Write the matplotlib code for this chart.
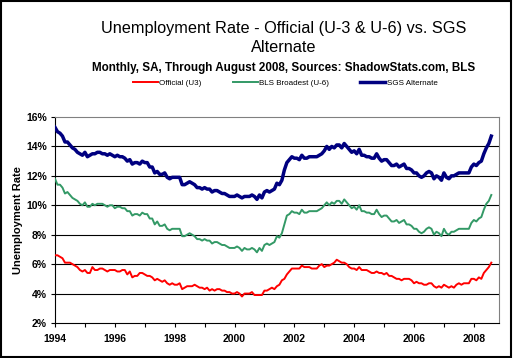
import matplotlib.pyplot as plt
import numpy as np
from matplotlib.patches import Rectangle

# monthly values, Jan 1994 .. Aug 2008
start_year = 1994

u3 = [6.6, 6.6, 6.5, 6.4, 6.1, 6.1, 6.1, 6.0, 5.9, 5.8, 5.6, 5.5,
      5.6, 5.4, 5.4, 5.8, 5.6, 5.6, 5.7, 5.7, 5.6, 5.5, 5.6, 5.6,
      5.6, 5.5, 5.5, 5.6, 5.6, 5.3, 5.5, 5.1, 5.2, 5.2, 5.4, 5.4,
      5.3, 5.2, 5.2, 5.1, 4.9, 5.0, 4.9, 4.8, 4.9, 4.7, 4.6, 4.7,
      4.6, 4.6, 4.7, 4.3, 4.4, 4.5, 4.5, 4.5, 4.6, 4.5, 4.4, 4.4,
      4.3, 4.4, 4.2, 4.3, 4.2, 4.3, 4.3, 4.2, 4.2, 4.1, 4.1, 4.0,
      4.0, 4.1, 4.0, 3.8, 4.0, 4.0, 4.0, 4.1, 3.9, 3.9, 3.9, 3.9,
      4.2, 4.2, 4.3, 4.4, 4.3, 4.5, 4.6, 4.9, 5.0, 5.3, 5.5, 5.7,
      5.7, 5.7, 5.7, 5.9, 5.8, 5.8, 5.8, 5.7, 5.7, 5.7, 5.9, 6.0,
      5.8, 5.9, 5.9, 6.0, 6.1, 6.3, 6.2, 6.1, 6.1, 6.0, 5.8, 5.7,
      5.7, 5.6, 5.8, 5.6, 5.6, 5.6, 5.5, 5.4, 5.4, 5.5, 5.4, 5.4,
      5.3, 5.4, 5.2, 5.2, 5.1, 5.0, 5.0, 4.9, 5.0, 5.0, 5.0, 4.9,
      4.7, 4.8, 4.7, 4.7, 4.6, 4.6, 4.7, 4.7, 4.5, 4.4, 4.5, 4.4,
      4.6, 4.5, 4.4, 4.5, 4.4, 4.6, 4.7, 4.6, 4.7, 4.7, 4.7, 5.0,
      5.0, 4.9, 5.1, 5.0, 5.4, 5.6, 5.8, 6.1]

u6 = [11.8, 11.4, 11.4, 11.2, 10.8, 10.9, 10.7, 10.5, 10.4, 10.3, 10.1, 10.0,
      10.2, 9.9, 9.9, 10.1, 10.0, 10.1, 10.1, 10.1, 10.0, 9.9, 10.0, 10.0,
      9.8, 9.9, 9.9, 9.8, 9.8, 9.6, 9.6, 9.3, 9.4, 9.4, 9.3, 9.5,
      9.4, 9.4, 9.1, 9.1, 8.7, 8.9, 8.6, 8.6, 8.7, 8.4, 8.3, 8.4,
      8.4, 8.4, 8.4, 7.9, 7.9, 8.0, 8.1, 8.0, 7.9, 7.7, 7.7, 7.6,
      7.7, 7.6, 7.6, 7.4, 7.5, 7.5, 7.4, 7.3, 7.3, 7.2, 7.1, 7.1,
      7.1, 7.2, 7.1, 6.9, 7.1, 7.0, 7.0, 7.1, 7.0, 6.8, 7.1, 6.9,
      7.3, 7.4, 7.3, 7.4, 7.5, 7.9, 7.8, 8.1, 8.7, 9.3, 9.4, 9.6,
      9.5, 9.5, 9.4, 9.7, 9.5, 9.5, 9.6, 9.6, 9.6, 9.6, 9.7, 9.8,
      10.0, 10.2, 10.0, 10.2, 10.1, 10.3, 10.3, 10.1, 10.4, 10.2, 10.0, 9.8,
      9.9, 9.7, 10.0, 9.6, 9.6, 9.5, 9.5, 9.4, 9.4, 9.7, 9.4, 9.2,
      9.3, 9.3, 9.1, 8.9, 8.9, 9.0, 8.8, 8.9, 9.0, 8.7, 8.7, 8.6,
      8.4, 8.4, 8.2, 8.1, 8.2, 8.4, 8.5, 8.4, 8.0, 8.2, 8.1, 7.9,
      8.4, 8.1, 8.0, 8.2, 8.2, 8.3, 8.4, 8.4, 8.4, 8.4, 8.4, 8.8,
      9.0, 8.9, 9.1, 9.2, 9.7, 10.1, 10.3, 10.7]

sgs = [15.3, 15.0, 14.9, 14.7, 14.3, 14.3, 14.1, 13.9, 13.8, 13.6, 13.5, 13.4,
       13.6, 13.3, 13.4, 13.5, 13.5, 13.6, 13.6, 13.5, 13.5, 13.4, 13.5, 13.4,
       13.3, 13.4, 13.3, 13.3, 13.2, 13.0, 13.1, 12.8, 12.9, 12.9, 12.8, 13.0,
       12.9, 12.9, 12.6, 12.6, 12.2, 12.3, 12.1, 12.1, 12.2, 11.9, 11.8, 11.9,
       11.9, 11.9, 11.9, 11.4, 11.4, 11.5, 11.6, 11.5, 11.4, 11.2, 11.2, 11.1,
       11.2, 11.1, 11.1, 10.9, 11.0, 11.0, 10.9, 10.8, 10.8, 10.7, 10.6, 10.6,
       10.6, 10.7, 10.6, 10.5, 10.6, 10.6, 10.6, 10.7, 10.6, 10.4, 10.7, 10.5,
       10.9, 11.0, 10.9, 11.0, 11.1, 11.5, 11.4, 11.7, 12.4, 12.9, 13.1, 13.3,
       13.2, 13.2, 13.1, 13.4, 13.2, 13.2, 13.3, 13.3, 13.3, 13.3, 13.4, 13.5,
       13.7, 14.0, 13.8, 14.0, 13.9, 14.1, 14.1, 13.9, 14.2, 14.0, 13.8, 13.6,
       13.7, 13.5, 13.8, 13.4, 13.4, 13.3, 13.3, 13.2, 13.2, 13.5, 13.2, 13.0,
       13.1, 13.1, 12.9, 12.7, 12.7, 12.8, 12.6, 12.7, 12.8, 12.5, 12.5, 12.4,
       12.2, 12.2, 12.0, 11.9, 12.0, 12.2, 12.3, 12.2, 11.8, 12.0, 11.9, 11.7,
       12.2, 11.9, 11.8, 12.0, 12.0, 12.1, 12.2, 12.2, 12.2, 12.2, 12.2, 12.6,
       12.8, 12.7, 12.9, 13.0, 13.5, 13.9, 14.2, 14.7]

labels = ["Official (U3)", "BLS Broadest (U-6)", "SGS Alternate"]
year_ticks = list(range(1994, 2009))

plt.rcParams['font.family'] = ['Liberation Sans', 'DejaVu Sans']

fig = plt.figure(figsize=(5.13, 3.58), dpi=100)
fig.patches.append(Rectangle((0.002, 0.003), 0.995, 0.994, transform=fig.transFigure,
                             fill=False, edgecolor='black', linewidth=1.5))

ax = fig.add_axes([0.1072, 0.0978, 0.8655, 0.5754])

x = start_year + np.arange(len(u3)) / 12.0
ax.plot(x, u3, color='#ff0000', linewidth=1.4, label=labels[0], zorder=3)
ax.plot(x, u6, color='#339966', linewidth=1.4, label=labels[1], zorder=3)
ax.plot(x, sgs, color='#000080', linewidth=2.5, label=labels[2], zorder=3)

ax.set_xlim(1994, 2008.84)
ax.set_ylim(2, 16)
ax.set_yticks(range(2, 17, 2))
ax.set_yticklabels([f"{v}%" for v in range(2, 17, 2)], fontsize=7.5, fontweight='bold')
ax.set_xticks(year_ticks)
ax.set_xticklabels([str(y) if y % 2 == 0 else "" for y in year_ticks],
                   fontsize=7.5, fontweight='bold')
ax.tick_params(axis='both', direction='out', length=3, width=0.8, color='black', pad=3)
ax.tick_params(axis='x', pad=5)

for v in range(4, 16, 2):
    ax.axhline(v, color='black', linewidth=0.8, zorder=1)

ax.spines['top'].set_color('#808080')
ax.spines['right'].set_color('#808080')
ax.spines['left'].set_color('black')
ax.spines['bottom'].set_color('black')
for s in ax.spines.values():
    s.set_linewidth(0.8)

ax.set_ylabel("Unemployment Rate", fontsize=8, fontweight='bold', labelpad=2)

fig.text(0.553, 0.921, "Unemployment Rate - Official (U-3 & U-6) vs. SGS",
         ha='center', va='center', fontsize=11.7)
fig.text(0.553, 0.866, "Alternate", ha='center', va='center', fontsize=11.7)
fig.text(0.553, 0.810, "Monthly, SA, Through August 2008, Sources: ShadowStats.com, BLS",
         ha='center', va='center', fontsize=8.4, fontweight='bold')

fig.legend(loc='center', bbox_to_anchor=(0.556, 0.768), ncol=3, frameon=False,
           fontsize=5.8, handlelength=3.1, handletextpad=0.15, columnspacing=3.9)

fig.savefig("out.png", dpi=100)
